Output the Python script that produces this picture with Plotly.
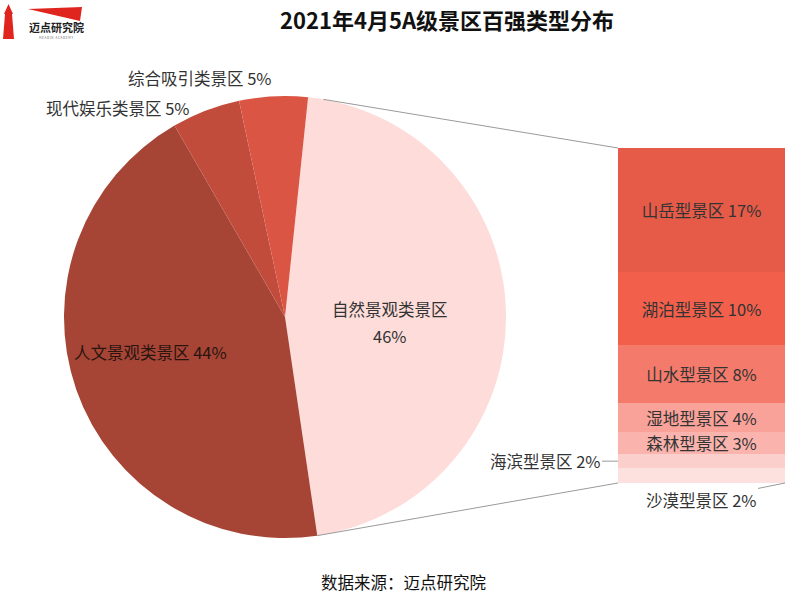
import math
import plotly.graph_objects as go

W, H = 800, 598
FONT = "Noto Sans CJK SC"

# ---- data ----
pie_labels = ["自然景观类景区", "人文景观类景区", "现代娱乐类景区", "综合吸引类景区"]
pie_values = [46, 44, 5, 5]
pie_colors = ["#FDDCDA", "#A64535", "#C24C3C", "#DA5543"]

bar_labels = ["沙漠型景区", "海滨型景区", "森林型景区", "湿地型景区", "山水型景区", "湖泊型景区", "山岳型景区"]
bar_values = [2, 2, 3, 4, 8, 10, 17]
bar_colors = ["#FDE1DE", "#FBCFCB", "#FAB4AD", "#F9A29A", "#F47B6C", "#F2604C", "#E55B48"]

title_text = "2021年4月5A级景区百强类型分布"
source_text = "数据来源：迈点研究院"

FS = 16.5

# ---- layout geometry (pixels -> paper) ----
def px(x):
    return x / W

def py(y):
    return 1 - y / H

pie_dom_x = [px(62), px(508)]
pie_dom_y = [py(538), py(96)]
bar_dom_x = [px(618), px(785)]
bar_dom_y = [py(483), py(148)]
rotation = 6

fig = go.Figure()

fig.add_trace(go.Pie(
    labels=pie_labels, values=pie_values, sort=False, direction="clockwise",
    rotation=rotation, marker=dict(colors=pie_colors, line=dict(width=0)),
    textinfo="none", hoverinfo="label+percent", showlegend=False,
    domain=dict(x=pie_dom_x, y=pie_dom_y),
))

total_bar = sum(bar_values)
for name, val, col in zip(bar_labels, bar_values, bar_colors):
    small = val <= 2
    fig.add_trace(go.Bar(
        x=[0], y=[val], width=1, marker=dict(color=col, line=dict(width=0)),
        text=[""] if small else [f"{name} {val}%"],
        textposition="inside", insidetextanchor="middle",
        textfont=dict(family=FONT, size=FS, color="#333333"),
        constraintext="none", showlegend=False, name=name,
        xaxis="x", yaxis="y",
    ))

fig.update_layout(
    width=W, height=H, margin=dict(l=0, r=0, t=0, b=0),
    paper_bgcolor="white", plot_bgcolor="white",
    barmode="stack", bargap=0,
    font=dict(family=FONT, color="#333333"),
    xaxis=dict(domain=bar_dom_x, range=[-0.5, 0.5], visible=False, fixedrange=True),
    yaxis=dict(domain=bar_dom_y, range=[0, total_bar], visible=False, fixedrange=True),
)

# connector lines from pie's 自然 slice edges to bar corners
cx = (pie_dom_x[0] + pie_dom_x[1]) / 2 * W
cy = (1 - (pie_dom_y[0] + pie_dom_y[1]) / 2) * H
r = min((pie_dom_x[1] - pie_dom_x[0]) * W, (pie_dom_y[1] - pie_dom_y[0]) * H) / 2
a0 = math.radians(rotation + 4)
a1 = math.radians(rotation + 360 * pie_values[0] / sum(pie_values))
p_top = (cx + r * math.sin(a0), cy - r * math.cos(a0))
p_bot = (cx + r * math.sin(a1), cy - r * math.cos(a1))
shapes = [
    dict(type="line", xref="paper", yref="paper", x0=px(p_top[0]), y0=py(p_top[1]),
         x1=bar_dom_x[0], y1=bar_dom_y[1], line=dict(color="#9A9A9A", width=1)),
    dict(type="line", xref="paper", yref="paper", x0=px(p_bot[0]), y0=py(p_bot[1]),
         x1=bar_dom_x[0], y1=bar_dom_y[0], line=dict(color="#9A9A9A", width=1)),
    # logo: tower
    dict(type="path", xref="paper", yref="paper",
         path=f"M {px(3)},{py(39)} L {px(14)},{py(39)} L {px(12)},{py(14)} L {px(13)},{py(14)} L {px(8.5)},{py(4)} L {px(4)},{py(14)} L {px(5)},{py(14)} Z",
         fillcolor="#E0251F", line=dict(width=0)),
    # logo: flag
    dict(type="path", xref="paper", yref="paper",
         path=f"M {px(28)},{py(9)} L {px(82)},{py(7)} L {px(80)},{py(21)} Z",
         fillcolor="#E0251F", line=dict(width=0)),
]

def ann(text, x, y, size=FS, color="#333333"):
    return dict(text=text, x=px(x), y=py(y), xref="paper", yref="paper",
                xanchor="center", yanchor="middle", showarrow=False,
                font=dict(family=FONT, size=size, color=color))

annotations = [
    ann(f"<b>{title_text}</b>", 447, 19, 22, "#111111"),
    ann("<b>迈点研究院</b>", 56, 27, 11, "#222222"),
    ann("M E A D I N   A C A D E M Y", 56, 38, 3, "#666666"),
    ann(source_text, 403, 582, FS, "#111111"),
    # pie labels
    ann(pie_labels[0], 390, 309),
    ann(f"{pie_values[0]}%", 390, 336),
    ann(f"{pie_labels[1]} {pie_values[1]}%", 150, 352, FS, "#2A1410"),
    ann(f"{pie_labels[2]} {pie_values[2]}%", 118, 108),
    ann(f"{pie_labels[3]} {pie_values[3]}%", 200, 78),
]

# outside labels for the two smallest bar segments
cum = 0
for name, val in zip(bar_labels, bar_values):
    mid = cum + val / 2
    if name == bar_labels[1]:
        annotations.append(dict(text=f"{name} {val}%", x=-0.5, y=mid, xref="x", yref="y",
                                showarrow=True, arrowhead=0, arrowwidth=1, arrowcolor="#9A9A9A",
                                ax=-73, ay=0, font=dict(family=FONT, size=FS, color="#333333")))
    elif name == bar_labels[0]:
        annotations.append(dict(text=f"{name} {val}%", x=0.5, y=0, xref="x", yref="y",
                                showarrow=True, arrowhead=0, arrowwidth=1, arrowcolor="#9A9A9A",
                                ax=-84, ay=17, font=dict(family=FONT, size=FS, color="#333333")))
    cum += val

fig.update_layout(shapes=shapes, annotations=annotations)
fig.write_html("out.html")
